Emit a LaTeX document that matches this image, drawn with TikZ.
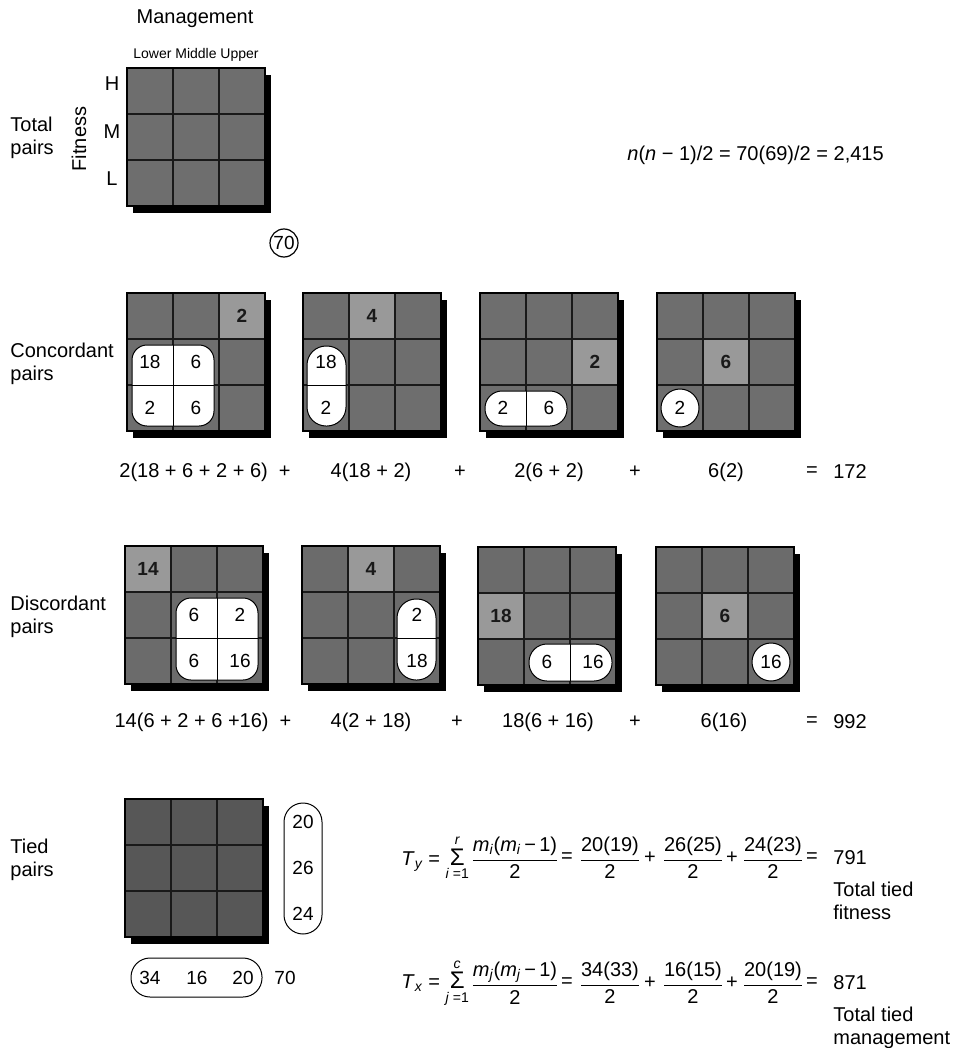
\documentclass[tikz,border=0pt]{standalone}
\usepackage{amsmath}
\usepackage{fontspec}
\setmainfont{Liberation Sans}
\usetikzlibrary{calc,positioning}
\newcommand{\pairfrac}[2]{$\dfrac{\text{#1}}{\text{#2}}$}
\newcommand{\bigsum}{\text{\fontsize{12}{12}\selectfont Σ}}

\begin{document}
\begin{tikzpicture}[x=0.5pt,y=-0.5pt,
  lbl/.style={font=\fontsize{10}{11.5}\selectfont,align=left,inner sep=0pt},
  hdr/.style={font=\fontsize{7}{8}\selectfont,inner sep=0pt},
  num/.style={font=\fontsize{9.5}{11}\selectfont,inner sep=0pt},
  bignum/.style={font=\fontsize{9.5}{11}\selectfont\bfseries,text=black!90,inner sep=0pt},
  eqn/.style={font=\fontsize{10}{12}\selectfont,inner sep=0pt},
  pill/.style={draw,fill=white,line width=0.5pt},
  divider/.style={line width=0.5pt},
  gridline/.style={line width=1pt,black!90},
  hilite/.style={fill=black!40}]

  \useasboundingbox (0,0) rectangle (952,1048);

  % grid blocks with drop shadow
  \foreach \g/\gx/\gy/\gc in {tot/127/68/57, c1/127/293/57, c2/303/293/57, c3/480/293/57, c4/657/293/57,
                             d1/125/546/58, d2/302/546/58, d3/478/547/58, d4/656/547/58, tie/125/799/66}{
    \coordinate (\g) at (\gx,\gy);
    \fill[black] (\gx+6,\gy+7) rectangle (\gx+144,\gy+145);
    \fill[black!\gc] (\g) rectangle +(138,138);
  }

  % multiplier cells
  \foreach \g/\c/\r/\v in {c1/2/0/2, c2/1/0/4, c3/2/1/2, c4/1/1/6, d1/0/0/14, d2/1/0/4, d3/0/1/18, d4/1/1/6}{
    \fill[hilite] ($(\g)+(46*\c,46*\r)$) rectangle +(46,46);
    \node[bignum] (\g-big) at ($(\g)+(46*\c+23,46*\r+23)$) {\v};
  }

  \foreach \g in {tot,c1,c2,c3,c4,d1,d2,d3,d4,tie}{
    \foreach \k in {1,2}{
      \draw[gridline] ($(\g)+(46*\k,0)$) -- +(0,138);
      \draw[gridline] ($(\g)+(0,46*\k)$) -- +(138,0);
    }
    \draw[line width=0.6pt] (\g) rectangle +(138,138);
  }

  % concordant pills
  \draw[pill,rounded corners=7.5pt] ($(c1)+(5,52)$) rectangle ($(c1)+(87,133)$);
  \draw[divider] ($(c1)+(46,52)$) -- ($(c1)+(46,133)$) ($(c1)+(5,92)$) -- ($(c1)+(87,92)$);
  \draw[pill,rounded corners=9.5pt] ($(c2)+(4,53)$) rectangle ($(c2)+(43,133)$);
  \draw[divider] ($(c2)+(4,92)$) -- ($(c2)+(43,92)$);
  \draw[pill,rounded corners=8.5pt] ($(c3)+(5,98)$) rectangle ($(c3)+(87,133)$);
  \draw[divider] ($(c3)+(46,98)$) -- ($(c3)+(46,133)$);
  \draw[pill] ($(c4)+(23,115)$) circle[radius=9.5pt];

  % discordant pills
  \draw[pill,rounded corners=7.5pt] ($(d1)+(51,52)$) rectangle ($(d1)+(133,134)$);
  \draw[divider] ($(d1)+(92,52)$) -- ($(d1)+(92,134)$) ($(d1)+(51,92)$) -- ($(d1)+(133,92)$);
  \draw[pill,rounded corners=9.5pt] ($(d2)+(95,53)$) rectangle ($(d2)+(134,134)$);
  \draw[divider] ($(d2)+(95,92)$) -- ($(d2)+(134,92)$);
  \draw[pill,rounded corners=9pt] ($(d3)+(51,97)$) rectangle ($(d3)+(134,134)$);
  \draw[divider] ($(d3)+(92,97)$) -- ($(d3)+(92,134)$);
  \draw[pill] ($(d4)+(115,115)$) circle[radius=9.5pt];

  \foreach \g/\c/\r/\v in {c1/0/1/18, c1/1/1/6, c1/0/2/2, c1/1/2/6, c2/0/1/18, c2/0/2/2, c3/0/2/2, c3/1/2/6, c4/0/2/2,
                           d1/1/1/6, d1/2/1/2, d1/1/2/6, d1/2/2/16, d2/2/1/2, d2/2/2/18, d3/1/2/6, d3/2/2/16, d4/2/2/16}
    \node[num] (\g-\c\r) at ($(\g)+(46*\c+23,46*\r+23)$) {\v};

  % tied pills
  \draw[pill,rounded corners=9.5pt] ($(tie)+(159,4)$) rectangle ($(tie)+(197,135)$);
  \draw[pill,rounded corners=9.5pt] ($(tie)+(6,159)$) rectangle ($(tie)+(137,198)$);
  \foreach \v/\dy [count=\k] in {20/23, 26/69, 24/115}
    \node[num] (row\k) at ($(tie)+(178,\dy)$) {\v};
  \foreach \v/\dx [count=\k] in {34/25, 16/72, 20/118}
    \node[num] (col\k) at ($(tie)+(\dx,179)$) {\v};
  \node[num] (tie-n) at (285,978) {70};

  % labels
  \node[lbl] (mgmt) at (195,19) {Management};
  \node[hdr] (levels) at (196,55) {Lower Middle Upper};
  \node[lbl] (rowH) at (112,84) {H};
  \node[lbl] (rowM) at (112,132) {M};
  \node[lbl] (rowL) at (112,179) {L};
  \node[lbl,rotate=90] (fitness) at (79,139) {Fitness};
  \node[lbl,anchor=west] (tot-lbl) at (10,138) {Total\\pairs};
  \node[draw,circle,num,line width=0.6pt,minimum size=14pt] (n70) at (284,243) {70};
  \node[eqn,anchor=west] (nform) at (627,155) {\textit{n}(\textit{n} − 1)/2 = 70(69)/2 = 2,415};
  \node[lbl,anchor=west] (con-lbl) at (10,364) {Concordant\\pairs};
  \node[lbl,anchor=west] (dis-lbl) at (10,617) {Discordant\\pairs};
  \node[lbl,anchor=west] (tie-lbl) at (10,860) {Tied\\pairs};

  % sums
  \foreach \xx/\t [count=\k] in {205/{2(18 + 6 + 2 + 6) \ +}, 371/{4(18 + 2)}, 460/+, 549/{2(6 + 2)}, 635/+, 726/{6(2)}, 812/{=}, 850/172}
    \node[eqn] (con-eq\k) at (\xx,472) {\t};
  \foreach \xx/\t [count=\k] in {203/{14(6 + 2 + 6 +16) \ +}, 371/{4(2 + 18)}, 457/+, 548/{18(6 + 16)}, 635/+, 724/{6(16)}, 812/{=}, 850/992}
    \node[eqn] (dis-eq\k) at (\xx,722) {\t};

  % ties
  \node[eqn,anchor=west] (ty-lbl) at (401,858) {\textit{T}$_{\textit{y}}$ = $\mathop{\bigsum}\limits^{\textit{r}}_{\text{\textit{i} =1}}$};
  \node[eqn] (ty0) at (515,858) {\pairfrac{\textit{m}$_{\textit{i}}$(\textit{m}$_{\textit{i}}$\,−\,1)}{2}};
  \foreach \xx/\t [count=\k] in {610/20(19), 693/26(25), 773/24(23)}
    \node[eqn] (ty\k) at (\xx,858) {\pairfrac{\t}{2}};
  \foreach \xx/\s [count=\k] in {567/{=}, 650/+, 732/+, 812/{=}}
    \node[eqn] (ty-op\k) at (\xx,858) {\s};
  \node[eqn,anchor=west] (ty-res) at (833,858) {791};
  \node[lbl,anchor=north west] (ty-note) at (833,882) {Total tied\\fitness};

  \node[eqn,anchor=west] (tx-lbl) at (401,983) {\textit{T}$_{\textit{x}}$ = $\mathop{\bigsum}\limits^{\textit{c}}_{\text{\textit{j} =1}}$};
  \node[eqn] (tx0) at (515,983) {\pairfrac{\textit{m}$_{\textit{j}}$(\textit{m}$_{\textit{j}}$\,−\,1)}{2}};
  \foreach \xx/\t [count=\k] in {610/34(33), 693/16(15), 773/20(19)}
    \node[eqn] (tx\k) at (\xx,983) {\pairfrac{\t}{2}};
  \foreach \xx/\s [count=\k] in {567/{=}, 650/+, 732/+, 812/{=}}
    \node[eqn] (tx-op\k) at (\xx,983) {\s};
  \node[eqn,anchor=west] (tx-res) at (833,983) {871};
  \node[lbl,anchor=north west] (tx-note) at (833,1007) {Total tied\\management};
\end{tikzpicture}
\end{document}
